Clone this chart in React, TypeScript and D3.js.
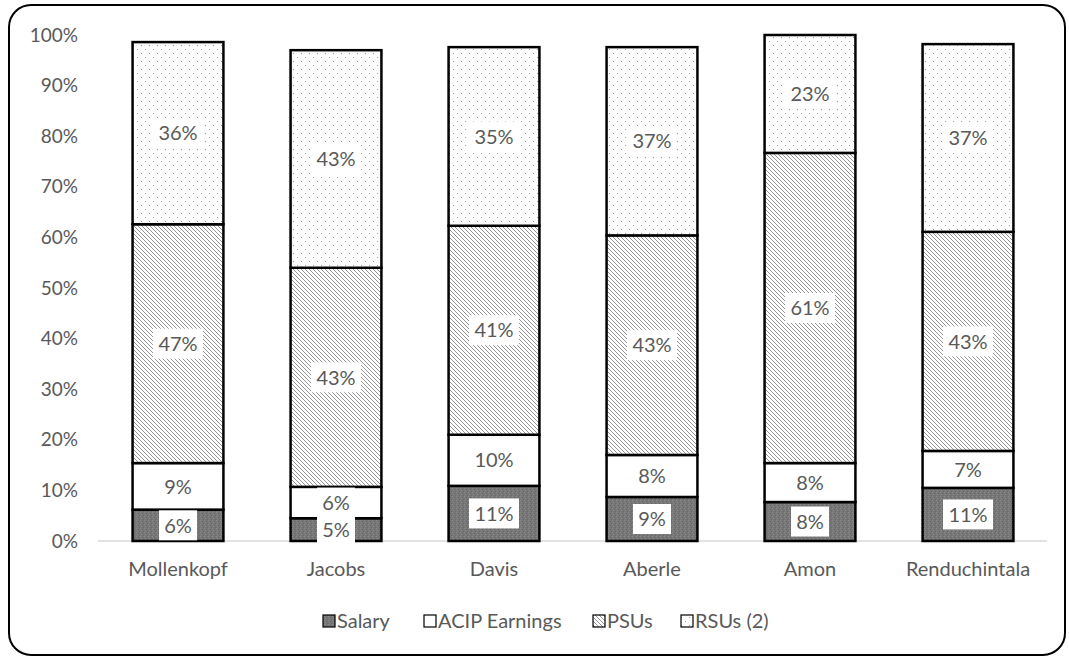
import React from "react";
import * as d3 from "d3";

const categories = ["Mollenkopf", "Jacobs", "Davis", "Aberle", "Amon", "Renduchintala"];
const seriesNames = ["Salary", "ACIP Earnings", "PSUs", "RSUs (2)"];
const salary = [6.2, 4.5, 10.9, 8.7, 7.7, 10.5];
const acip = [9.2, 6.2, 10.1, 8.3, 7.7, 7.3];
const psus = [47.2, 43.3, 41.3, 43.4, 61.3, 43.3];
const rsus = [36.0, 43.0, 35.3, 37.2, 23.3, 37.1];
const yTicks = [0, 10, 20, 30, 40, 50, 60, 70, 80, 90, 100];

const W = 1069;
const H = 658;
const FONT = "Lato, 'Open Sans', sans-serif";
const TXT = "#595959";

export default function App() {
  const x = d3.scaleBand().domain(categories).range([99, 1047]).paddingInner(0.425).paddingOuter(0.2125);
  const y = d3.scaleLinear().domain([0, 100]).range([541, 35]);
  const seriesData = [salary, acip, psus, rsus];
  const fills = ["url(#salaryPat)", "#ffffff", "url(#hatchPat)", "url(#dotPat)"];
  const rows = categories.map((c, i) => ({ cat: c, s0: salary[i], s1: acip[i], s2: psus[i], s3: rsus[i] }));
  const stack = d3.stack<any>().keys(["s0", "s1", "s2", "s3"])(rows);

  const legendItems = [
    { name: seriesNames[0], fill: "url(#salaryPat)", x: 323 },
    { name: seriesNames[1], fill: "#ffffff", x: 424 },
    { name: seriesNames[2], fill: "url(#hatchPat)", x: 593 },
    { name: seriesNames[3], fill: "url(#dotPat)", x: 681 },
  ];

  return (
    <svg width={W} height={H} style={{ position: "absolute", left: 0, top: 0, background: "#fff" }}>
      <defs>
        <pattern id="salaryPat" width="4" height="4" patternUnits="userSpaceOnUse">
          <rect width="4" height="4" fill="#777" />
          <rect x="0" y="0" width="1" height="1" fill="#8c8c8c" />
          <rect x="2" y="1" width="1" height="1" fill="#666" />
          <rect x="1" y="2" width="1" height="1" fill="#8a8a8a" />
          <rect x="3" y="3" width="1" height="1" fill="#686868" />
        </pattern>
        <pattern id="hatchPat" width="4" height="4" patternUnits="userSpaceOnUse">
          <rect width="4" height="4" fill="#fff" />
          <path d="M-1,-1 L5,5 M-1,3 L1,5 M3,-1 L5,1" stroke="#8a8a8a" strokeWidth="0.9" />
        </pattern>
        <pattern id="dotPat" width="8" height="8" patternUnits="userSpaceOnUse">
          <rect width="8" height="8" fill="#fff" />
          <rect x="1" y="1" width="1" height="1" fill="#999" />
          <rect x="5" y="5" width="1" height="1" fill="#999" />
        </pattern>
      </defs>
      <rect x={9} y={5} width={1056} height={650} rx={22} ry={22} fill="#fff" stroke="#000" strokeWidth={2} />

      {yTicks.map((t) => (
        <text key={t} x={78} y={y(t)} dy="0.35em" textAnchor="end" fontFamily={FONT} fontSize={19} fill={TXT}>
          {t}%
        </text>
      ))}
      <line x1={98} x2={1047} y1={y(0)} y2={y(0)} stroke="#d9d9d9" strokeWidth={1.5} />

      {stack.map((layer, si) => (
        <g key={si}>
          {layer.map((d, i) => (
            <rect
              key={i}
              x={x(categories[i])}
              width={x.bandwidth()}
              y={y(d[1])}
              height={y(d[0]) - y(d[1])}
              fill={fills[si]}
              stroke="#000"
              strokeWidth={2.5}
            />
          ))}
        </g>
      ))}

      {stack.map((layer, si) => (
        <g key={"l" + si}>
          {layer.map((d, i) => {
            const cx = (x(categories[i]) as number) + x.bandwidth() / 2;
            const cy = (y(d[0]) + y(d[1])) / 2;
            const label = Math.round(seriesData[si][i]) + "%";
            const bw = label.length * 12 + 14;
            return (
              <g key={i}>
                <rect x={cx - bw / 2} y={cy - 15} width={bw} height={30} fill="#fff" />
                <text x={cx} y={cy} dy="0.36em" textAnchor="middle" fontFamily={FONT} fontSize={20} fill={TXT}>
                  {label}
                </text>
              </g>
            );
          })}
        </g>
      ))}

      {categories.map((c) => (
        <text key={c} x={(x(c) as number) + x.bandwidth() / 2} y={569} dy="0.35em" textAnchor="middle" fontFamily={FONT} fontSize={20} fill={TXT}>
          {c}
        </text>
      ))}

      {legendItems.map((it) => (
        <g key={it.name}>
          <rect x={it.x} y={615} width={12} height={12} fill={it.fill} stroke="#000" strokeWidth={1.2} />
          <text x={it.x + 14} y={621} dy="0.36em" fontFamily={FONT} fontSize={20} fill={TXT}>
            {it.name}
          </text>
        </g>
      ))}
    </svg>
  );
}
